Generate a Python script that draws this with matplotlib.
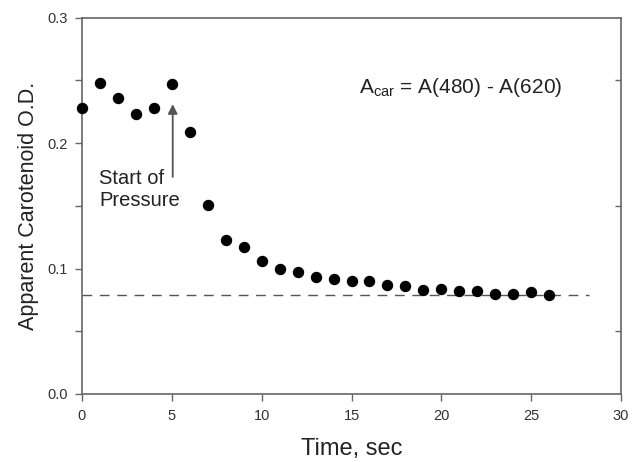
import matplotlib
matplotlib.use("Agg")
import matplotlib.pyplot as plt
import numpy as np

plt.rcParams['font.family'] = ['Liberation Sans', 'DejaVu Sans']
plt.rcParams['mathtext.default'] = 'regular'
plt.rcParams['lines.scale_dashes'] = False

# Apparent carotenoid O.D. vs time (s)
time_s = [0, 1, 2, 3, 4, 5, 6, 7, 8, 9, 10, 11, 12, 13, 14, 15, 16, 17, 18,
          19, 20, 21, 22, 23, 24, 25, 26]
od = [0.228, 0.248, 0.236, 0.223, 0.228, 0.247, 0.209, 0.151, 0.123, 0.117,
      0.106, 0.100, 0.097, 0.093, 0.092, 0.090, 0.090, 0.087, 0.086,
      0.083, 0.084, 0.082, 0.082, 0.080, 0.080, 0.081, 0.079]
baseline_od = 0.0788
baseline_x = [0, 28.2]
x_ticks = [0, 5, 10, 15, 20, 25, 30]
y_ticks = [0.0, 0.1, 0.2, 0.3]
y_minor = [0.05, 0.15, 0.25]

fig = plt.figure(figsize=(6.38, 4.62), dpi=100)
ax = fig.add_axes([0.1285, 0.1472, 0.8449, 0.8148])

gray = '#666666'
txt = '#222222'

ax.plot(baseline_x, [baseline_od, baseline_od], color='#555555', lw=1.0,
        dashes=(7, 5.5))
ax.plot(time_s, od, 'o', color='black', markersize=7.2, zorder=3,
        clip_on=False)

ax.set_xlim(0, 30)
ax.set_ylim(0, 0.3)
ax.set_xticks(x_ticks)
ax.set_yticks(y_ticks)
ax.set_yticks(y_minor, minor=True)
ax.set_yticklabels([f'{v:.1f}' for v in y_ticks])

for s in ax.spines.values():
    s.set_color(gray)
    s.set_linewidth(1.2)

ax.tick_params(axis='both', which='major', direction='out', length=5,
               width=1.0, color=gray, labelsize=10.5, labelcolor='#333333',
               pad=5.5)
ax.tick_params(axis='y', which='minor', direction='out', length=5,
               width=1.0, color=gray)

# inward ticks on the right side
ax2 = ax.twinx()
ax2.set_ylim(0, 0.3)
ax2.set_yticks(y_minor)
ax2.set_yticklabels([])
ax2.tick_params(axis='y', direction='in', length=4, width=1.0, color=gray)
for s in ax2.spines.values():
    s.set_visible(False)

ax.set_xlabel('Time, sec', fontsize=17, color=txt, labelpad=11)
ax.set_ylabel('Apparent Carotenoid O.D.', fontsize=15.5, color=txt, labelpad=6)

ax.text(21.1, 0.244, r'A$_{car}$ = A(480) - A(620)', fontsize=15,
        color=txt, ha='center', va='center')
ax.text(0.95, 0.163, 'Start of\nPressure', fontsize=14.5, color=txt,
        ha='left', va='center', linespacing=1.15)
ax.annotate('', xy=(5.05, 0.231), xytext=(5.05, 0.173),
            arrowprops=dict(arrowstyle='-|>', color='#555555', lw=1.3,
                            mutation_scale=14, shrinkA=0, shrinkB=0))

fig.savefig('out.png', dpi=100)
